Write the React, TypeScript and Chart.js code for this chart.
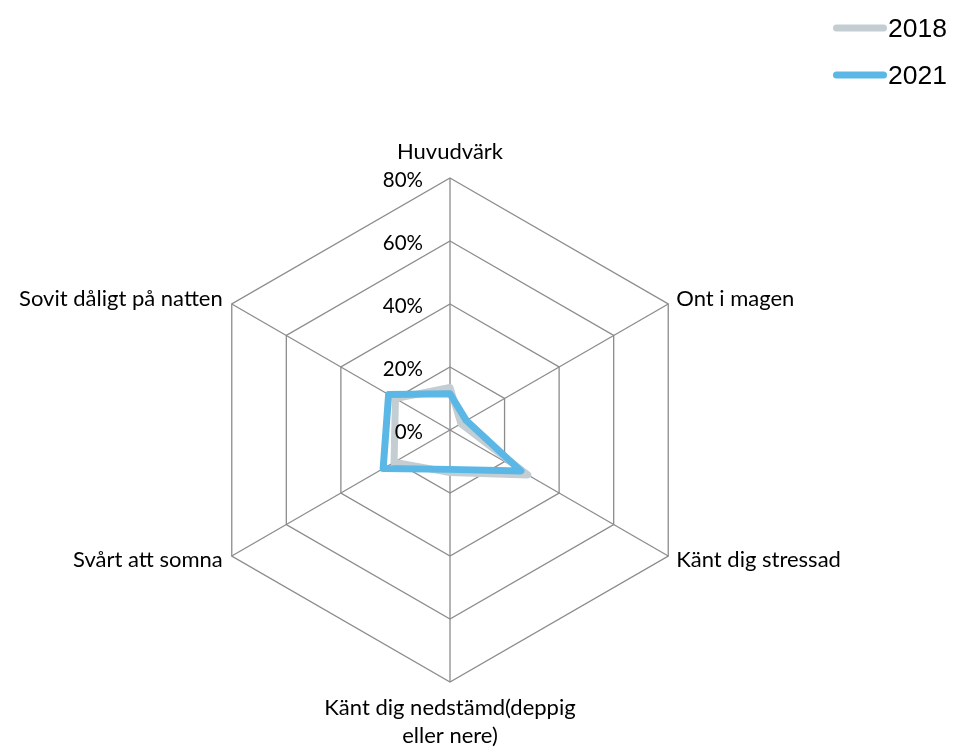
import React, { useEffect, useRef } from "react";
import { Chart, registerables } from "chart.js";

Chart.register(...registerables);

// ---- data ----
const categories: (string | string[])[] = [
  "Huvudvärk",
  "Ont i magen",
  "Känt dig stressad",
  ["Känt dig nedstämd(deppig", "eller nere)"],
  "Svårt att somna",
  "Sovit dåligt på natten",
];
const seriesNames = ["2018", "2021"];
const values2018 = [13.5, 4, 28.5, 13.5, 20.5, 20];
const values2021 = [11.5, 6, 26, 12.5, 24.5, 22.5];
const tickMin = 0;
const tickMax = 80;
const tickStep = 20;

// ---- styles ----
const W = 956;
const H = 749;
const LABEL_FONT = "22px Lato";
const TICK_FONT = "20.5px Lato";
const LEGEND_FONT = "26.5px 'Liberation Sans', Arial, sans-serif";
const GRID_COLOR = "#8c8c8c";
const COLOR_2018 = "#c3cdd2";
const COLOR_2021 = "#5bb7e5";

const overlayPlugin = {
  id: "overlay",
  afterDraw(chart: any) {
    const ctx: CanvasRenderingContext2D = chart.ctx;
    const scale = chart.scales.r;
    const cx = scale.xCenter;
    const cy = scale.yCenter;
    const R = scale.drawingArea;
    ctx.save();
    ctx.fillStyle = "#000";
    ctx.textBaseline = "alphabetic";

    // tick labels
    ctx.font = TICK_FONT;
    ctx.textAlign = "right";
    scale.ticks.forEach((t: any) => {
      const d = scale.getDistanceFromCenterForValue(t.value);
      ctx.fillText(String(t.label), cx - 27, cy - d + 8.5);
    });

    // point labels
    ctx.font = LABEL_FONT;
    const labels = chart.data.labels as (string | string[])[];
    labels.forEach((lab, i) => {
      const p = scale.getPointPosition(i, R);
      const dx = p.x - cx;
      const dy = p.y - cy;
      const lines = Array.isArray(lab) ? lab : [lab];
      if (Math.abs(dx) < 1) {
        ctx.textAlign = "center";
        if (dy < 0) {
          lines.forEach((l, k) =>
            ctx.fillText(l, p.x, p.y - 19 - (lines.length - 1 - k) * 28)
          );
        } else {
          lines.forEach((l, k) => ctx.fillText(l, p.x, p.y + 33 + k * 28));
        }
      } else {
        ctx.textAlign = dx > 0 ? "left" : "right";
        const x = p.x + (dx > 0 ? 8 : -9);
        const y = p.y + 6.5 + Math.sign(dy) * 4.5;
        lines.forEach((l, k) => ctx.fillText(l, x, y + k * 28));
      }
    });

    // legend (top right)
    ctx.font = LEGEND_FONT;
    ctx.textAlign = "left";
    chart.data.datasets.forEach((ds: any, i: number) => {
      const yLine = 28 + i * 47;
      ctx.strokeStyle = ds.borderColor;
      ctx.lineWidth = 7;
      ctx.lineCap = "round";
      ctx.beginPath();
      ctx.moveTo(836.5, yLine);
      ctx.lineTo(883.5, yLine);
      ctx.stroke();
      ctx.fillStyle = "#000";
      ctx.fillText(ds.label, 888, yLine + 9);
    });
    ctx.restore();
  },
};

export default function App() {
  const ref = useRef<HTMLCanvasElement | null>(null);

  useEffect(() => {
    if (!ref.current) return;
    const chart = new Chart(ref.current, {
      type: "radar",
      data: {
        labels: categories as any,
        datasets: [
          {
            label: seriesNames[0],
            data: values2018,
            borderColor: COLOR_2018,
            backgroundColor: COLOR_2018,
            borderWidth: 7,
            fill: false,
            pointRadius: 0,
            pointHoverRadius: 0,
            borderJoinStyle: "round",
            order: 2,
          },
          {
            label: seriesNames[1],
            data: values2021,
            borderColor: COLOR_2021,
            backgroundColor: COLOR_2021,
            borderWidth: 7,
            fill: false,
            pointRadius: 0,
            pointHoverRadius: 0,
            borderJoinStyle: "round",
            order: 1,
          },
        ],
      },
      options: {
        responsive: false,
        animation: false,
        layout: { padding: { left: 198, top: 178, right: 254, bottom: 67 } },
        plugins: {
          legend: { display: false },
          tooltip: { enabled: false },
        },
        scales: {
          r: {
            min: tickMin,
            max: tickMax,
            ticks: {
              display: false,
              stepSize: tickStep,
              callback: (v: any) => v + "%",
            },
            grid: { circular: false, color: GRID_COLOR, lineWidth: 1.3 },
            angleLines: { color: GRID_COLOR, lineWidth: 1.3 },
            pointLabels: { display: false },
          },
        },
      },
      plugins: [overlayPlugin],
    });
    return () => chart.destroy();
  }, []);

  return (
    <div style={{ position: "fixed", left: 0, top: 0, width: W, height: H, background: "#fff" }}>
      <canvas ref={ref} width={W} height={H} style={{ display: "block" }} />
    </div>
  );
}
